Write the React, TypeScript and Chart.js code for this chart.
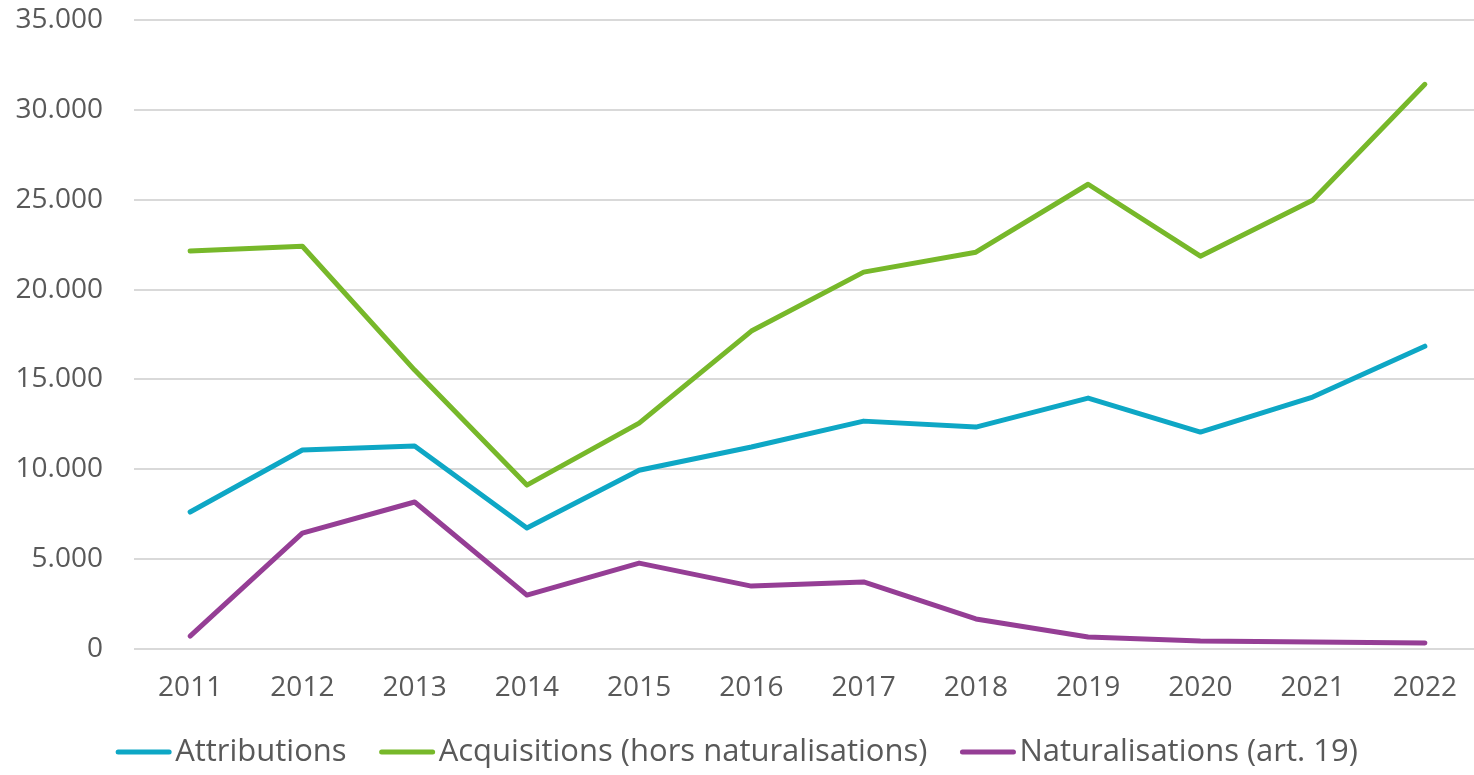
import React, { useEffect, useRef } from "react";
import { Chart, registerables } from "chart.js";

Chart.register(...registerables);

const years = ["2011", "2012", "2013", "2014", "2015", "2016", "2017", "2018", "2019", "2020", "2021", "2022"];
const attributions = [7620, 11070, 11290, 6730, 9950, 11240, 12680, 12350, 13960, 12070, 14020, 16850];
const acquisitions = [22140, 22410, 15520, 9120, 12570, 17690, 20970, 22080, 25860, 21860, 24970, 31420];
const naturalisations = [720, 6450, 8180, 3000, 4780, 3500, 3730, 1670, 670, 450, 390, 330];
const seriesLabels = ["Attributions", "Acquisitions (hors naturalisations)", "Naturalisations (art. 19)"];
const seriesColors = ["#0ea7c5", "#77b82a", "#953e95"];

const FONT = "'Open Sans', sans-serif";
const TEXT = "#595959";

const legendPlugin = {
  id: "lineLegend",
  afterDraw(chart: any) {
    const ctx = chart.ctx;
    ctx.save();
    ctx.font = `31px ${FONT}`;
    const lineLen = 55;
    const gapText = 4;
    const gapItem = 33;
    const widths = chart.data.datasets.map((d: any) => ctx.measureText(d.label).width);
    let total = 0;
    widths.forEach((w: number, i: number) => {
      total += lineLen + gapText + w + (i < widths.length - 1 ? gapItem : 0);
    });
    let x = 737 - total / 2;
    const y = 752;
    chart.data.datasets.forEach((d: any, i: number) => {
      ctx.strokeStyle = d.borderColor;
      ctx.lineWidth = 5;
      ctx.lineCap = "round";
      ctx.beginPath();
      ctx.moveTo(x + 2, y);
      ctx.lineTo(x + lineLen - 2, y);
      ctx.stroke();
      ctx.fillStyle = TEXT;
      ctx.textBaseline = "middle";
      ctx.textAlign = "left";
      ctx.fillText(d.label, x + lineLen + gapText, y);
      x += lineLen + gapText + widths[i] + gapItem;
    });
    ctx.restore();
  },
};

export default function App() {
  const ref = useRef<HTMLCanvasElement>(null);
  useEffect(() => {
    document.body.style.margin = "0";
    document.body.style.overflow = "hidden";
    const values = [attributions, acquisitions, naturalisations];
    const chart = new Chart(ref.current!, {
      type: "line",
      data: {
        labels: years,
        datasets: values.map((v, i) => ({
          label: seriesLabels[i],
          data: v,
          borderColor: seriesColors[i],
          backgroundColor: seriesColors[i],
          borderWidth: 5,
          borderCapStyle: "round",
          borderJoinStyle: "round",
          pointRadius: 0,
          tension: 0,
        })),
      },
      options: {
        animation: false,
        responsive: false,
        maintainAspectRatio: false,
        layout: { padding: { top: 20, bottom: 60, left: 0, right: 1 } },
        plugins: { legend: { display: false }, tooltip: { enabled: false } },
        scales: {
          x: {
            offset: true,
            grid: { display: false, drawTicks: false },
            border: { display: false },
            ticks: { color: TEXT, font: { family: FONT, size: 28 }, padding: 22, maxRotation: 0 },
            afterFit: (s: any) => { s.height = 66; s.paddingLeft = 0; s.paddingRight = 0; },
          },
          y: {
            min: 0,
            max: 35000,
            grid: { color: "#d9d9d9", lineWidth: 2, drawTicks: false },
            border: { display: false },
            ticks: {
              stepSize: 5000,
              color: TEXT,
              padding: 31,
              font: { family: FONT, size: 28 },
              callback: (v: any) => Number(v).toLocaleString("de-DE"),
            },
            afterFit: (s: any) => { s.width = 134; s.paddingTop = 0; s.paddingBottom = 0; },
          },
        },
      },
      plugins: [legendPlugin],
    });
    return () => chart.destroy();
  }, []);
  return (
    <div style={{ position: "fixed", left: 0, top: 0, width: 1482, height: 775 }}>
      <canvas ref={ref} width={1482} height={775} style={{ width: 1482, height: 775 }} />
    </div>
  );
}
